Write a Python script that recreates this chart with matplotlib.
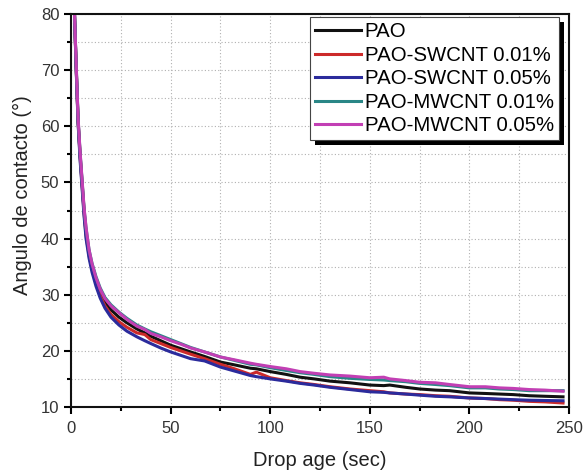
import matplotlib
matplotlib.use('Agg')
import matplotlib.pyplot as plt
from matplotlib.ticker import MultipleLocator
from matplotlib.patches import Rectangle
from matplotlib.transforms import IdentityTransform

plt.rcParams['font.family'] = ['Liberation Sans', 'DejaVu Sans']

# drop age (sec)
t = [1.7, 2.5, 3.5, 4.5, 5.5, 6.5, 7.5, 9, 10.5, 12.5, 14.6, 17, 20, 24, 28, 33, 37,
     40, 45, 50, 55, 60, 67, 75, 82, 90, 93, 100, 108, 115, 122, 130, 140, 150, 157,
     160, 168, 175, 183, 190, 200, 208, 215, 222, 230, 238, 247]

pao = [80, 71, 61, 55, 50, 45, 41, 37.5, 35, 32.5, 30.2, 28.6, 27.3, 26.0, 25.0, 23.9, 23.2,
       22.6, 21.8, 21.0, 20.4, 19.8, 19.0, 18.0, 17.5, 16.9, 16.8, 16.3, 15.8, 15.3, 15.0, 14.6, 14.3, 13.9, 13.8,
       13.9, 13.5, 13.2, 13.0, 12.9, 12.5, 12.4, 12.3, 12.2, 12.0, 11.9, 11.8]

swcnt_001 = [80, 70.8, 60.8, 54.5, 49.5, 44.5, 40.5, 37, 34.5, 32, 29.8, 28.0, 26.5, 25.2, 24.2, 23.2, 22.9,
             22.0, 21.3, 20.6, 20.0, 19.4, 18.6, 17.6, 16.8, 15.8, 16.2, 15.2, 14.7, 14.3, 14.0, 13.6, 13.2, 12.9, 12.7,
             12.5, 12.3, 12.2, 12.0, 11.9, 11.6, 11.5, 11.3, 11.2, 11.0, 10.9, 10.7]

swcnt_005 = [80, 70.5, 60.5, 54, 49, 44, 40, 36.5, 34, 31.5, 29.4, 27.6, 26.0, 24.6, 23.5, 22.5, 21.8,
             21.3, 20.5, 19.8, 19.2, 18.6, 18.2, 17.1, 16.4, 15.6, 15.4, 15.0, 14.6, 14.2, 13.9, 13.5, 13.1, 12.7, 12.6,
             12.5, 12.3, 12.1, 11.9, 11.8, 11.6, 11.5, 11.4, 11.3, 11.2, 11.15, 11.1]

mwcnt_001 = [80, 71.3, 61.3, 55.3, 50.3, 45.3, 41.8, 38, 35.6, 33.2, 31.2, 29.5, 28.2, 26.9, 25.8, 24.6, 23.9,
             23.4, 22.7, 22.0, 21.3, 20.6, 19.8, 18.9, 18.3, 17.6, 17.5, 17.0, 16.5, 16.1, 15.8, 15.4, 15.1, 14.9, 14.8,
             14.7, 14.5, 14.2, 14.0, 13.8, 13.4, 13.4, 13.2, 13.1, 12.9, 12.9, 12.9]

mwcnt_005 = [80, 71.5, 61.5, 55.5, 50.5, 45.5, 42, 38, 35.5, 33, 31.0, 29.3, 28.0, 26.8, 25.6, 24.4, 23.8,
             23.1, 22.5, 21.8, 21.2, 20.5, 19.8, 18.9, 18.4, 17.8, 17.6, 17.2, 16.8, 16.3, 16.0, 15.7, 15.5, 15.2, 15.3,
             15.0, 14.7, 14.4, 14.3, 14.0, 13.6, 13.6, 13.4, 13.3, 13.1, 13.0, 12.8]

labels = ['PAO', 'PAO-SWCNT 0.01%', 'PAO-SWCNT 0.05%', 'PAO-MWCNT 0.01%', 'PAO-MWCNT 0.05%']
colors = ['#111111', '#cc2a2a', '#2b2b9c', '#2a8686', '#c23fb4']

fig = plt.figure(figsize=(5.83, 4.71), dpi=100)
ax = fig.add_axes([0.122, 0.136, 0.854, 0.834])

for y, lab, c in zip([pao, swcnt_001, swcnt_005, mwcnt_001, mwcnt_005], labels, colors):
    ax.plot(t, y, color=c, lw=2.2, label=lab)

ax.set_xlim(0, 250)
ax.set_ylim(10, 80)
ax.xaxis.set_major_locator(MultipleLocator(50))
ax.xaxis.set_minor_locator(MultipleLocator(25))
ax.yaxis.set_major_locator(MultipleLocator(10))
ax.yaxis.set_minor_locator(MultipleLocator(5))
ax.grid(True, which='both', color='#b0b0b0', ls=(0, (1, 2)), lw=0.8)
ax.tick_params(which='major', direction='out', length=5, width=1.5, labelsize=12,
               labelcolor='#333333', top=False, right=False)
ax.tick_params(axis='x', which='major', pad=5)
ax.tick_params(which='minor', direction='out', length=3, width=1.5, top=False, right=False)
for s in ax.spines.values():
    s.set_linewidth(1.5)
    s.set_color('#111111')

ax.set_xlabel('Drop age (sec)', fontsize=14.5, color='#222222', labelpad=11)
ax.set_ylabel('Angulo de contacto (°)', fontsize=14.5, color='#222222')
ax.yaxis.set_label_coords(-0.078, 0.54)

leg = ax.legend(loc='upper right', fontsize=14.7, frameon=True, fancybox=False,
                borderpad=0.25, labelspacing=0.22, handlelength=2.25, handletextpad=0.2,
                borderaxespad=0, bbox_to_anchor=(0.98, 0.992))
leg.get_frame().set_edgecolor('#444444')
leg.get_frame().set_linewidth(0.8)
leg.get_frame().set_alpha(1)

# solid black drop shadow behind the legend box
fig.canvas.draw()
bb = leg.get_window_extent()
shadow = Rectangle((bb.x0 + 5, bb.y0 - 5), bb.width, bb.height, transform=IdentityTransform(),
                   facecolor='black', edgecolor='none', zorder=4.9, clip_on=False)
ax.add_patch(shadow)

fig.savefig('out.png', dpi=100)
